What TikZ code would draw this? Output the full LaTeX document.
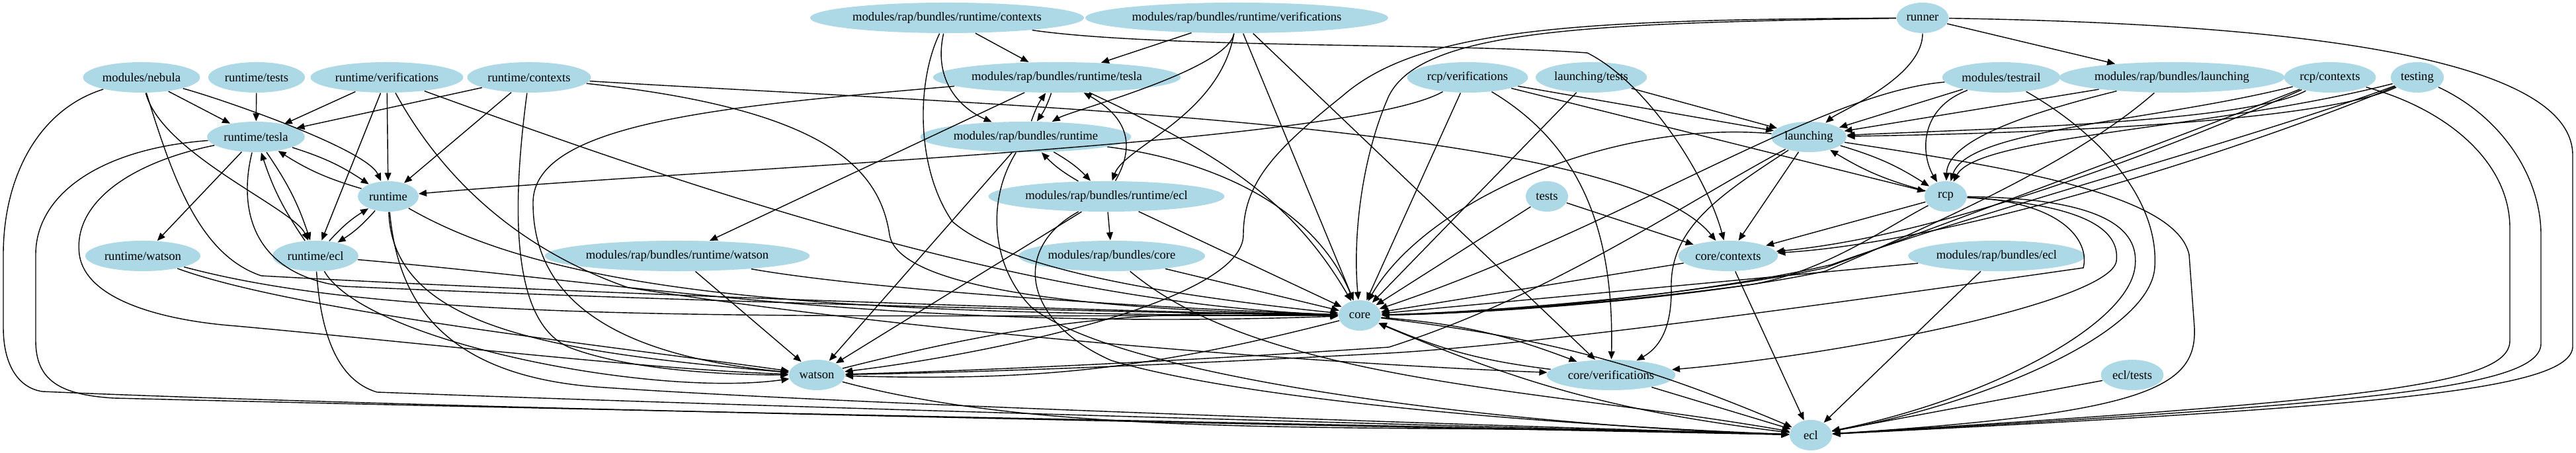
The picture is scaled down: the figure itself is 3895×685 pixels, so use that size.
\documentclass[tikz,border=0pt]{standalone}
\usepackage{fontspec}
\setmainfont{Liberation Serif}
\usetikzlibrary{arrows.meta,shapes.geometric}
\definecolor{pkgblue}{HTML}{ADD8E6}

\begin{document}
\begin{tikzpicture}[x=0.01cm, y=0.01cm,
  pkg/.style={ellipse, fill=pkgblue, inner xsep=1pt, inner ysep=0pt, minimum height=0.46cm, minimum width=0.64cm, font=\fontsize{5.3}{6}\selectfont},
  dep/.style={-{Triangle[length=3.4pt,width=2.8pt]}, line width=0.4pt}]
  \fill[white] (0,0) rectangle (3895,685);
  \useasboundingbox (0,0) rectangle (3895,685);

  \node[pkg] (mrbctx)    at (1432,658) {modules/rap/bundles/runtime/contexts};
  \node[pkg] (mrbverif)  at (1870,658) {modules/rap/bundles/runtime/verifications};
  \node[pkg] (runner)    at (2907,658) {runner};
  \node[pkg] (nebula)    at (214,568)  {modules/nebula};
  \node[pkg] (rtests)    at (388,568)  {runtime/tests};
  \node[pkg] (rverif)    at (585,568)  {runtime/verifications};
  \node[pkg] (rctx)      at (800,568)  {runtime/contexts};
  \node[pkg] (mrbtesla)  at (1598,568) {modules/rap/bundles/runtime/tesla};
  \node[pkg] (rcpverif)  at (2219,568) {rcp/verifications};
  \node[pkg] (ltests)    at (2406,568) {launching/tests};
  \node[pkg] (testrail)  at (3026,568) {modules/testrail};
  \node[pkg] (mrblaunch) at (3284,568) {modules/rap/bundles/launching};
  \node[pkg] (rcpctx)    at (3523,568) {rcp/contexts};
  \node[pkg] (testing)   at (3655,568) {testing};
  \node[pkg] (rtesla)    at (387,478)  {runtime/tesla};
  \node[pkg] (mrbrt)     at (1551,478) {modules/rap/bundles/runtime};
  \node[pkg] (launching) at (2735,478) {launching};
  \node[pkg] (runtime)   at (587,388)  {runtime};
  \node[pkg] (mrbrtecl)  at (1673,388) {modules/rap/bundles/runtime/ecl};
  \node[pkg] (tests)     at (2339,388) {tests};
  \node[pkg] (rcp)       at (2942,388) {rcp};
  \node[pkg] (rwatson)   at (216,298)  {runtime/watson};
  \node[pkg] (recl)      at (477,298)  {runtime/ecl};
  \node[pkg] (mrbwatson) at (1024,298) {modules/rap/bundles/runtime/watson};
  \node[pkg] (mrbcore)   at (1681,298) {modules/rap/bundles/core};
  \node[pkg] (corectx)   at (2613,298) {core/contexts};
  \node[pkg] (mrbecl)    at (3019,298) {modules/rap/bundles/ecl};
  \node[pkg] (core)      at (2056,208) {core};
  \node[pkg] (watson)    at (1235,118) {watson};
  \node[pkg] (corever)   at (2436,118) {core/verifications};
  \node[pkg] (ecltests)  at (3224,118) {ecl/tests};
  \node[pkg] (ecl)       at (2738,27)  {ecl};

  % direct dependencies
  \foreach \a/\b in {mrbctx/mrbtesla, mrbverif/mrbtesla, mrbverif/core, mrbverif/corever, runner/mrblaunch,
      nebula/rtesla, rtests/rtesla, rverif/rtesla, rctx/rtesla, rverif/runtime, rctx/runtime, rverif/recl,
      rtesla/rwatson, mrbtesla/mrbwatson, mrbwatson/watson, mrbrt/watson, mrbrtecl/watson, mrbrtecl/mrbcore,
      mrbrtecl/core, mrbcore/core, rcpverif/launching, rcpverif/rcp, rcpverif/core, ltests/launching,
      ltests/core, testrail/launching, mrblaunch/launching, tests/corectx, tests/core, launching/corectx,
      rcp/corectx, corectx/core, corectx/ecl, mrbecl/core, mrbecl/ecl, corever/ecl, ecltests/ecl}{
    \draw[dep] (\a) -- (\b);
  }
  % cycles: one arrow each way
  \foreach \a/\b in {rtesla/runtime, rtesla/recl, runtime/recl, mrbtesla/mrbrt, mrbrt/mrbrtecl,
      launching/rcp, core/corever, core/watson, core/ecl}{
    \draw[dep] (\a) to[bend left=8] (\b);
    \draw[dep] (\b) to[bend left=8] (\a);
  }
  \foreach \a/\b/\oa/\od/\ia/\id in {nebula/runtime/-15/120/115/80, nebula/recl/-75/120/115/80,
      rverif/core/-20/500/178/500, mrbverif/mrbrt/-100/80/30/80, mrbverif/mrbrtecl/-100/150/70/80,
      runner/launching/-90/90/40/60, rcpverif/runtime/-150/200/5/500, runtime/watson/-88/200/175/400,
      rwatson/core/-15/400/180/900, rwatson/watson/-20/250/172/300, recl/core/-5/500/182/700,
      recl/watson/-60/150/188/250, mrbwatson/core/-10/300/178/300, watson/ecl/-15/400/178/600,
      mrbcore/ecl/-40/300/170/400, runtime/core/-30/300/180/800, launching/core/175/300/60/200}{
    \draw[dep] (\a) .. controls +(\oa:\od) and +(\ia:\id) .. (\b);
  }

  % long routes
  \draw[dep] (mrbctx) .. controls (1410,560) and (1455,520) .. (mrbrt);
  \draw[dep] (mrbctx) .. controls (1385,560) and (1385,430) .. (1440,350) .. controls (1520,280) and (1750,240) .. (core);
  \draw[dep] (mrbctx) .. controls (1750,612) and (2200,620) .. (2400,605) .. controls (2490,560) and (2580,420) .. (corectx);
  \draw[dep] (rctx) .. controls (1500,525) and (2450,500) .. (corectx);
  \draw[dep] (rctx) .. controls (1250,520) and (1330,430) .. (1345,330) .. controls (1360,240) and (1700,215) .. (core);
  \draw[dep] (rctx) .. controls (775,380) and (770,200) .. (860,160) .. controls (950,125) and (1100,118) .. (watson);
  \draw[dep] (mrbtesla) .. controls (1100,525) and (808,500) .. (806,380) .. controls (805,250) and (900,150) .. (watson);
  \draw[dep] (mrbtesla) .. controls (1850,450) and (1955,380) .. (core);
  \draw[dep] (mrbrt) .. controls (1780,450) and (1975,400) .. (core);
  \draw[dep] (mrbrtecl) .. controls (1720,470) and (1700,510) .. (mrbtesla);
  \draw[dep] (runner) .. controls (2400,650) and (2150,640) .. (2100,540) .. controls (2060,450) and (2045,330) .. (core);
  \draw[dep] (runner) .. controls (2400,655) and (2150,645) .. (2030,540) .. controls (1930,460) and (1880,410) .. (1880,330) .. controls (1880,230) and (1500,150) .. (watson);
  \draw[dep] (runner) .. controls (3400,650) and (3890,610) .. (3890,450) -- (3890,160) .. controls (3885,95) and (3600,70) .. (ecl);
  \draw[dep] (testing) .. controls (3780,510) and (3842,420) .. (3842,330) -- (3842,165) .. controls (3840,100) and (3600,75) .. (ecl);
  \draw[dep] (rcpctx) .. controls (3700,520) and (3795,440) .. (3795,340) -- (3795,170) .. controls (3795,105) and (3600,80) .. (ecl);
  \draw[dep] (testrail) .. controls (3180,480) and (3265,380) .. (3258,280) .. controls (3250,180) and (3000,75) .. (ecl);
  \draw[dep] (launching) .. controls (3050,430) and (3290,390) .. (3310,300) -- (3318,190) .. controls (3322,100) and (3250,60) .. (ecl);
  \draw[dep] (rcp) .. controls (3120,380) and (3160,320) .. (3150,280) .. controls (2800,230) and (2300,160) .. (2080,150) .. controls (1800,135) and (1500,122) .. (watson);
  \draw[dep] (rcp) .. controls (3170,375) and (3205,330) .. (3200,290) .. controls (3190,230) and (2800,150) .. (corever);
  \draw[dep] (rcp) .. controls (3200,385) and (3235,330) .. (3228,280) .. controls (3215,190) and (3000,80) .. (ecl);
  \draw[dep] (rcp) .. controls (2850,340) and (2760,275) .. (2650,255) .. controls (2450,228) and (2250,212) .. (core);
  \draw[dep] (launching) .. controls (2600,390) and (2525,340) .. (2527,250) .. controls (2528,190) and (2510,160) .. (corever);
  \draw[dep] (launching) .. controls (2550,380) and (2350,240) .. (2100,160) .. controls (1800,140) and (1500,125) .. (watson);
  \draw[dep] (testrail) .. controls (2900,520) and (2905,450) .. (rcp);
  \draw[dep] (testrail) .. controls (2750,545) and (2450,340) .. (core);
  \draw[dep] (mrblaunch) .. controls (3050,510) and (2945,470) .. (rcp);
  \draw[dep] (mrblaunch) .. controls (3150,450) and (2960,360) .. (2760,275) .. controls (2600,240) and (2300,212) .. (core);
  \draw[dep] (rcpctx) .. controls (3250,500) and (2975,490) .. (rcp);
  \draw[dep] (rcpctx) .. controls (3400,500) and (3000,490) .. (launching);
  \draw[dep] (rcpctx) .. controls (3300,470) and (2950,330) .. (corectx);
  \draw[dep] (rcpctx) .. controls (3300,480) and (2950,350) .. (2760,280) .. controls (2600,245) and (2300,215) .. (core);
  \draw[dep] (testing) .. controls (3350,490) and (2990,480) .. (rcp);
  \draw[dep] (testing) .. controls (3500,495) and (3000,482) .. (launching);
  \draw[dep] (testing) .. controls (3420,470) and (2970,320) .. (corectx);
  \draw[dep] (testing) .. controls (3420,480) and (2960,355) .. (2770,285) .. controls (2600,245) and (2300,212) .. (core);
  \draw[dep] (rcpverif) .. controls (2400,460) and (2440,320) .. (corever);
  \draw[dep] (rverif) .. controls (650,450) and (750,320) .. (950,250) .. controls (1400,180) and (2000,135) .. (corever);
  \draw[dep] (rtesla) .. controls (200,440) and (110,380) .. (120,300) .. controls (130,230) and (250,200) .. (357,192) .. controls (600,170) and (1000,125) .. (watson);
  \draw[dep] (rtesla) .. controls (150,460) and (54,390) .. (54,300) -- (54,170) .. controls (54,110) and (90,88) .. (172,83) .. controls (1000,62) and (2300,38) .. (ecl);
  \draw[dep] (nebula) .. controls (60,520) and (5,420) .. (5,300) -- (5,190) .. controls (5,130) and (30,98) .. (64,93) .. controls (700,65) and (2300,36) .. (ecl);
  \draw[dep] (rtesla) .. controls (360,370) and (380,270) .. (520,252) .. controls (1000,230) and (1700,212) .. (core);
  \draw[dep] (nebula) .. controls (260,420) and (300,300) .. (395,268) .. controls (800,245) and (1600,215) .. (core);
  \draw[dep] (runtime) .. controls (600,250) and (650,120) .. (900,100) .. controls (1300,72) and (2300,40) .. (ecl);
  \draw[dep] (recl) .. controls (485,180) and (510,110) .. (570,92) .. controls (1200,68) and (2300,38) .. (ecl);
  \draw[dep] (mrbrt) .. controls (1490,380) and (1500,280) .. (1560,220) .. controls (1700,110) and (2300,40) .. (ecl);
  \draw[dep] (mrbrtecl) .. controls (1530,310) and (1545,200) .. (1680,140) .. controls (1900,75) and (2400,40) .. (ecl);
\end{tikzpicture}
\end{document}
